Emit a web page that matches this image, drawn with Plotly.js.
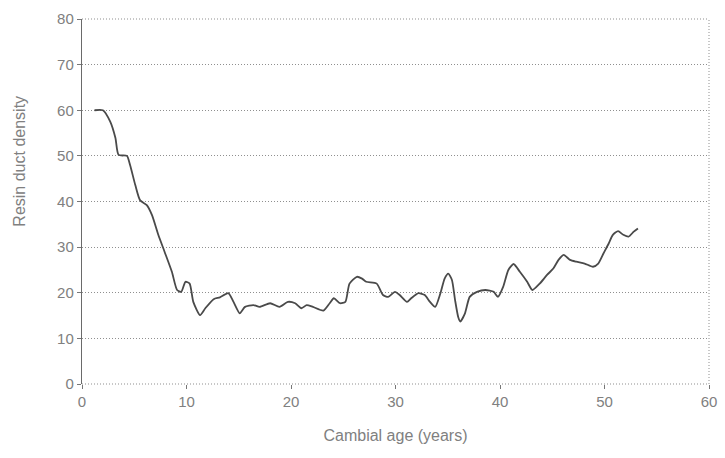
<!DOCTYPE html>
<html>
<head>
<meta charset="utf-8">
<script src="https://cdn.plot.ly/plotly-3.0.1.min.js"></script>
<style>html,body{margin:0;padding:0;background:#fff;}#chart{width:725px;height:458px;}</style>
</head>
<body>
<div id="chart"></div>
<script>
// Cambial age (years)
const cambialAge = [1.2, 2.0, 2.7, 3.2, 3.5, 4.3, 4.6, 5.1, 5.55, 6.2, 6.7, 7.3, 7.9, 8.6, 9.1, 9.5, 9.9, 10.3, 10.65, 11.3, 11.8, 12.6, 13.2, 14.0, 14.5, 15.1, 15.6, 16.4, 17.0, 18.0, 18.9, 19.7, 20.4, 21.0, 21.5, 22.1, 23.1, 23.7, 24.1, 24.7, 25.2, 25.6, 26.3, 26.8, 27.2, 28.2, 28.8, 29.3, 29.95, 30.4, 31.1, 31.5, 32.2, 32.8, 33.3, 33.8, 34.3, 34.7, 35.05, 35.4, 35.7, 36.0, 36.2, 36.65, 37.1, 37.8, 38.6, 39.4, 39.8, 40.3, 40.8, 41.3, 41.9, 42.6, 43.1, 43.8, 44.5, 45.1, 45.6, 46.1, 46.7, 47.3, 48.1, 48.9, 49.4, 49.9, 50.4, 50.8, 51.3, 51.8, 52.3, 52.8, 53.2];
// Resin duct density
const ductDensity = [60.0, 60.0, 57.5, 53.9, 50.2, 50.0, 48.0, 43.6, 40.3, 39.2, 37.0, 32.7, 29.0, 24.6, 20.6, 20.2, 22.4, 22.0, 18.0, 15.1, 16.6, 18.6, 19.0, 19.9, 18.0, 15.5, 16.9, 17.3, 16.9, 17.7, 16.9, 18.0, 17.7, 16.6, 17.3, 16.9, 16.1, 17.7, 18.8, 17.7, 18.0, 22.0, 23.5, 23.1, 22.4, 22.0, 19.5, 19.1, 20.2, 19.5, 18.0, 18.8, 19.9, 19.5, 18.0, 16.9, 19.9, 23.1, 24.2, 22.8, 18.4, 14.7, 13.7, 15.5, 19.1, 20.2, 20.6, 20.2, 19.1, 21.3, 25.0, 26.3, 24.6, 22.4, 20.6, 22.0, 23.9, 25.3, 27.2, 28.3, 27.2, 26.8, 26.4, 25.7, 26.4, 28.6, 30.8, 32.7, 33.5, 32.7, 32.3, 33.4, 34.1];
const xTicks = [0, 10, 20, 30, 40, 50, 60];
const yTicks = [0, 10, 20, 30, 40, 50, 60, 70, 80];
const xTitle = 'Cambial age (years)';
const yTitle = 'Resin duct density';

const font = {family: 'Liberation Sans, Arial, sans-serif', size: 15, color: '#808080'};
const gridStyle = {color: '#8f8f8f', width: 1, dash: '1px,2px'};

const trace = {
  x: cambialAge,
  y: ductDensity,
  type: 'scatter',
  mode: 'lines',
  line: {color: '#4a4a4a', width: 1.8, shape: 'spline', smoothing: 0.6},
  hoverinfo: 'x+y'
};

const layout = {
  width: 725,
  height: 458,
  margin: {l: 82, r: 16, t: 19, b: 74},
  paper_bgcolor: '#ffffff',
  plot_bgcolor: '#ffffff',
  showlegend: false,
  font: font,
  xaxis: {
    range: [0, 60],
    tickvals: xTicks,
    ticktext: xTicks.map(String),
    showgrid: false,
    zeroline: false,
    showline: false,
    ticks: 'outside',
    ticklen: 4,
    tickcolor: '#777',
    tickfont: font,
    title: {text: xTitle, font: {family: font.family, size: 16, color: '#808080'}, standoff: 20}
  },
  yaxis: {
    range: [0, 80],
    tickvals: yTicks,
    ticktext: yTicks.map(String),
    showgrid: true,
    gridcolor: gridStyle.color,
    gridwidth: 1,
    griddash: gridStyle.dash,
    zeroline: false,
    showline: true,
    linecolor: '#6a6a6a',
    linewidth: 1.2,
    ticks: 'outside',
    ticklen: 4,
    tickcolor: '#777',
    tickfont: font
  },
  shapes: [
    {type: 'line', xref: 'paper', yref: 'paper', x0: 0, x1: 1, y0: 0, y1: 0, line: gridStyle},
    {type: 'line', xref: 'paper', yref: 'paper', x0: 0, x1: 1, y0: 1, y1: 1, line: gridStyle},
    {type: 'line', xref: 'paper', yref: 'paper', x0: 1, x1: 1, y0: 0, y1: 1, line: gridStyle}
  ],
  annotations: [
    {text: yTitle, xref: 'paper', yref: 'paper', x: -0.1, y: 0.61, textangle: -90,
     showarrow: false, xanchor: 'center', yanchor: 'middle',
     font: {family: font.family, size: 16, color: '#808080'}}
  ]
};

Plotly.newPlot('chart', [trace], layout, {displayModeBar: false, staticPlot: true});
</script>
</body>
</html>
